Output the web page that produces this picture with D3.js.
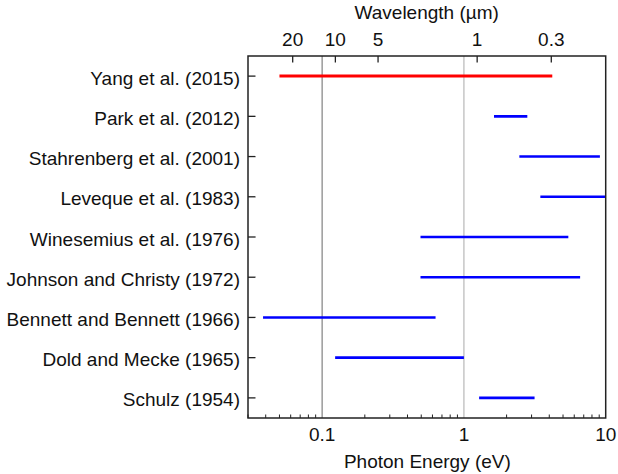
<!DOCTYPE html>
<html>
<head>
<meta charset="utf-8">
<script src="https://cdn.jsdelivr.net/npm/d3@7"></script>
<style>
  html, body { margin: 0; padding: 0; background: #fff; }
  svg { display: block; font-family: "Liberation Sans", Arial, sans-serif; }
</style>
</head>
<body>
<svg id="chart" width="618" height="474"></svg>
<script>
// ---- data ----
const studies = [
  "Yang et al. (2015)",
  "Park et al. (2012)",
  "Stahrenberg et al. (2001)",
  "Leveque et al. (1983)",
  "Winesemius et al. (1976)",
  "Johnson and Christy (1972)",
  "Bennett and Bennett (1966)",
  "Dold and Mecke (1965)",
  "Schulz (1954)"
];
const rangeStart = [0.05, 1.63, 2.46, 3.46, 0.494, 0.494, 0.0383, 0.1235, 1.28]; // eV
const rangeEnd   = [4.2, 2.8, 9.1, 10, 5.45, 6.6, 0.631, 1.0, 3.15];            // eV
const highlight  = [true, false, false, false, false, false, false, false, false];
const energyTicks = [0.1, 1, 10];
const energyGrid = [0.1, 1];
const wavelengthTicks = [20, 10, 5, 1, 0.3]; // µm
const HC = 1.23984; // eV·µm

(function () {
// ---- layout ----
const svg = d3.select("#chart");
const L = 248, R = 605.7, T = 56, B = 418;
const fs = 19;

const x = d3.scaleLog().domain([0.03, 10]).range([L, R]);
const y = d3.scalePoint().domain(studies).range([T, B]).padding(0.5);

// gridlines
const gridColors = ["#8a8a8a", "#bdbdbd"];
svg.append("g").selectAll("line").data(energyGrid).join("line")
  .attr("x1", d => x(d)).attr("x2", d => x(d))
  .attr("y1", T).attr("y2", B)
  .attr("stroke", (d, i) => gridColors[i]).attr("stroke-width", 1.3);

// range lines
const data = studies.map((s, i) => ({ s, a: rangeStart[i], b: rangeEnd[i], h: highlight[i] }));
svg.append("g").selectAll("line").data(data).join("line")
  .attr("x1", d => x(d.a)).attr("x2", d => x(d.b))
  .attr("y1", d => y(d.s)).attr("y2", d => y(d.s))
  .attr("stroke", d => d.h ? "#ff0000" : "#0000ff")
  .attr("stroke-width", d => d.h ? 3 : 2.6);

// bottom axis (minor ticks inward)
const minor = [];
for (let e = -2; e <= 0; e++) for (let m = 2; m <= 9; m++) {
  const v = m * Math.pow(10, e);
  if (v >= 0.03 && v < 10) minor.push(v);
}
const bAxis = svg.append("g").attr("transform", `translate(0,${B})`);
bAxis.selectAll("line.minor").data(minor).join("line").attr("class", "minor")
  .attr("x1", d => x(d)).attr("x2", d => x(d)).attr("y1", 0).attr("y2", -3.5)
  .attr("stroke", "#222").attr("stroke-width", 1);
bAxis.selectAll("text").data(energyTicks).join("text")
  .attr("x", d => x(d)).attr("y", 23).attr("text-anchor", "middle")
  .attr("font-size", fs).attr("fill", "#111").text(d => d);

// top axis (wavelength)
const tAxis = svg.append("g").attr("transform", `translate(0,${T})`);
tAxis.selectAll("line").data(wavelengthTicks).join("line")
  .attr("x1", d => x(HC / d)).attr("x2", d => x(HC / d)).attr("y1", 0).attr("y2", 6.5)
  .attr("stroke", "#222").attr("stroke-width", 1.3);
tAxis.selectAll("text").data(wavelengthTicks).join("text")
  .attr("x", d => x(HC / d)).attr("y", -10).attr("text-anchor", "middle")
  .attr("font-size", fs).attr("fill", "#111").text(d => d);

// left axis
const lAxis = svg.append("g");
lAxis.selectAll("line").data(studies).join("line")
  .attr("x1", L).attr("x2", L + 7.5).attr("y1", d => y(d)).attr("y2", d => y(d))
  .attr("stroke", "#222").attr("stroke-width", 1.3);
lAxis.selectAll("text").data(studies).join("text")
  .attr("x", L - 8).attr("y", d => y(d) + 8.5).attr("text-anchor", "end")
  .attr("font-size", fs).attr("fill", "#111").text(d => d);

// frame
svg.append("rect").attr("x", L).attr("y", T)
  .attr("width", R - L).attr("height", B - T)
  .attr("fill", "none").attr("stroke", "#222").attr("stroke-width", 1.5);

// axis titles
svg.append("text").attr("x", (L + R) / 2 + 0.5).attr("y", 468)
  .attr("text-anchor", "middle").attr("font-size", fs).attr("fill", "#111")
  .text("Photon Energy (eV)");
svg.append("text").attr("x", 426.7).attr("y", 19)
  .attr("text-anchor", "middle").attr("font-size", fs).attr("fill", "#111")
  .text("Wavelength (\u00b5m)");
})();
</script>
</body>
</html>
